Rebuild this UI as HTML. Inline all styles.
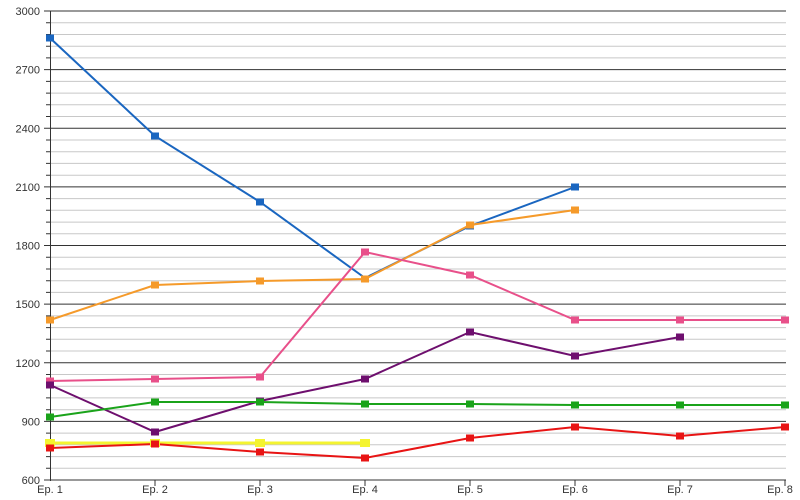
<!DOCTYPE html>
<html><head><meta charset="utf-8"><style>
body{margin:0;background:#fff}
svg{display:block;font-family:"Liberation Sans",sans-serif}
</style></head><body>
<svg width="800" height="500" xmlns="http://www.w3.org/2000/svg">
<path fill="none" stroke="#c8c8c8" stroke-width="1" d="M50 22.7H786M50 34.5H786M50 46.2H786M50 57.9H786M50 81.4H786M50 93.1H786M50 104.8H786M50 116.5H786M50 140H786M50 151.7H786M50 163.4H786M50 175.2H786M50 198.6H786M50 210.3H786M50 222.1H786M50 233.8H786M50 257.2H786M50 269H786M50 280.7H786M50 292.4H786M50 315.9H786M50 327.6H786M50 339.3H786M50 351H786M50 374.5H786M50 386.2H786M50 397.9H786M50 409.7H786M50 433.1H786M50 444.8H786M50 456.6H786M50 468.3H786"/>
<path fill="none" stroke="#c8c8c8" stroke-width="1" d=""/>
<path fill="none" stroke="#333" stroke-width="1" d="M44 11H786M44 69.6H786M44 128.3H786M44 186.9H786M44 245.5H786M44 304.1H786M44 362.8H786M44 421.4H786M44 480H786M50.5 11V481M46 22.7H50M46 34.5H50M46 46.2H50M46 57.9H50M46 81.4H50M46 93.1H50M46 104.8H50M46 116.5H50M46 140H50M46 151.7H50M46 163.4H50M46 175.2H50M46 198.6H50M46 210.3H50M46 222.1H50M46 233.8H50M46 257.2H50M46 269H50M46 280.7H50M46 292.4H50M46 315.9H50M46 327.6H50M46 339.3H50M46 351H50M46 374.5H50M46 386.2H50M46 397.9H50M46 409.7H50M46 433.1H50M46 444.8H50M46 456.6H50M46 468.3H50M155 480V486M260 480V486M365 480V486M470 480V486M575 480V486M680 480V486M785 480V486"/>
<g font-size="11" fill="#333" text-anchor="end">
<text x="40" y="15">3000</text><text x="40" y="73.6">2700</text><text x="40" y="132.3">2400</text><text x="40" y="190.9">2100</text><text x="40" y="249.5">1800</text><text x="40" y="308.1">1500</text><text x="40" y="366.8">1200</text><text x="40" y="425.4">900</text><text x="40" y="484">600</text>
</g>
<g font-size="11" fill="#333" text-anchor="middle">
<text x="50" y="493">Ep. 1</text><text x="155" y="493">Ep. 2</text><text x="260" y="493">Ep. 3</text><text x="365" y="493">Ep. 4</text><text x="470" y="493">Ep. 5</text><text x="575" y="493">Ep. 6</text><text x="680" y="493">Ep. 7</text><text x="780" y="493">Ep. 8</text>
</g>
<g fill="none" stroke-width="2">
<polyline stroke="#1a66c0" points="50,38 155,136 260,202 365,278 470,226 575,187"/>
<polyline stroke="#f59a2a" points="50,320 155,285 260,281 365,279 470,225 575,210"/>
<polyline stroke="#e8508a" points="50,381 155,379 260,377 365,252 470,275 575,320 680,320 785,320"/>
<polyline stroke="#6e0f6e" points="50,385 155,432 260,401 365,379 470,332 575,356 680,337"/>
<polyline stroke="#1aa31a" points="50,417 155,402 260,402 365,404 470,404 575,405 680,405 785,405"/>
<polyline stroke="#f4f430" stroke-width="3" points="50,443 155,443 260,443 365,443"/>
<polyline stroke="#e81414" points="50,448 155,444 260,452 365,458 470,438 575,427 680,436 785,427"/>
</g>
<g fill="#1a66c0"><rect x="46" y="34.5" width="8" height="7"/><rect x="151" y="132.5" width="8" height="7"/><rect x="256" y="198.5" width="8" height="7"/><rect x="466" y="222.5" width="8" height="7"/><rect x="571" y="183.5" width="8" height="7"/></g>
<g fill="#f59a2a"><rect x="46" y="316.5" width="8" height="7"/><rect x="151" y="281.5" width="8" height="7"/><rect x="256" y="277.5" width="8" height="7"/><rect x="361" y="275.5" width="8" height="7"/><rect x="466" y="221.5" width="8" height="7"/><rect x="571" y="206.5" width="8" height="7"/></g>
<g fill="#e8508a"><rect x="46" y="377.5" width="8" height="7"/><rect x="151" y="375.5" width="8" height="7"/><rect x="256" y="373.5" width="8" height="7"/><rect x="361" y="248.5" width="8" height="7"/><rect x="466" y="271.5" width="8" height="7"/><rect x="571" y="316.5" width="8" height="7"/><rect x="676" y="316.5" width="8" height="7"/><rect x="781" y="316.5" width="8" height="7"/></g>
<g fill="#6e0f6e"><rect x="46" y="381.5" width="8" height="7"/><rect x="151" y="428.5" width="8" height="7"/><rect x="256" y="397.5" width="8" height="7"/><rect x="361" y="375.5" width="8" height="7"/><rect x="466" y="328.5" width="8" height="7"/><rect x="571" y="352.5" width="8" height="7"/><rect x="676" y="333.5" width="8" height="7"/></g>
<g fill="#1aa31a"><rect x="46" y="413.5" width="8" height="7"/><rect x="151" y="398.5" width="8" height="7"/><rect x="256" y="398.5" width="8" height="7"/><rect x="361" y="400.5" width="8" height="7"/><rect x="466" y="400.5" width="8" height="7"/><rect x="571" y="401.5" width="8" height="7"/><rect x="676" y="401.5" width="8" height="7"/><rect x="781" y="401.5" width="8" height="7"/></g>
<g fill="#f4f430"><rect x="45" y="439" width="10" height="8"/><rect x="150" y="439" width="10" height="8"/><rect x="255" y="439" width="10" height="8"/><rect x="360" y="439" width="10" height="8"/></g>
<g fill="#e81414"><rect x="46" y="444.5" width="8" height="7"/><rect x="151" y="440.5" width="8" height="7"/><rect x="256" y="448.5" width="8" height="7"/><rect x="361" y="454.5" width="8" height="7"/><rect x="466" y="434.5" width="8" height="7"/><rect x="571" y="423.5" width="8" height="7"/><rect x="676" y="432.5" width="8" height="7"/><rect x="781" y="423.5" width="8" height="7"/></g>
</svg>
</body></html>
